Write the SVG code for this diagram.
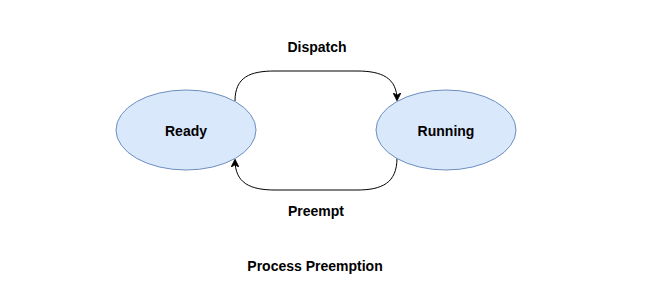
<svg xmlns="http://www.w3.org/2000/svg" width="651" height="307" viewBox="0 0 651 307">
<style>
.st{fill:#dae8fc;stroke:#6c8ebf;stroke-width:1}
.t{font-family:"Liberation Sans",Arial,sans-serif;font-weight:bold;font-size:14px;fill:#000;text-anchor:middle;dominant-baseline:central}
.e{fill:none;stroke:#000;stroke-width:1}
</style>
<defs>
<marker id="arr" viewBox="0 0 10 10" refX="9" refY="5" markerWidth="8" markerHeight="8" orient="auto" markerUnits="userSpaceOnUse">
<path d="M0,0 L10,5 L0,10 L3,5 Z" fill="#000" stroke="#000" stroke-width="1"/>
</marker>
</defs>
<rect width="651" height="307" fill="#fff"/>
<g id="edges">
<path class="e" d="M235,101 C235,77 250,71 275,71 L357,71 C382,71 397,78 397,100" marker-end="url(#arr)"/>
<path class="e" d="M397,158 C397,183 382,190 357,190 L275,190 C250,190 235,183 235,160" marker-end="url(#arr)"/>
</g>
<g id="ready">
<ellipse class="st" cx="186" cy="130" rx="70" ry="40"/>
<text class="t" x="186" y="131">Ready</text>
</g>
<g id="running">
<ellipse class="st" cx="446" cy="130" rx="70" ry="40"/>
<text class="t" x="446" y="131">Running</text>
</g>
<g id="labels">
<text class="t" x="317" y="47">Dispatch</text>
<text class="t" x="316" y="211">Preempt</text>
<text class="t" x="315" y="266">Process Preemption</text>
</g>
</svg>
